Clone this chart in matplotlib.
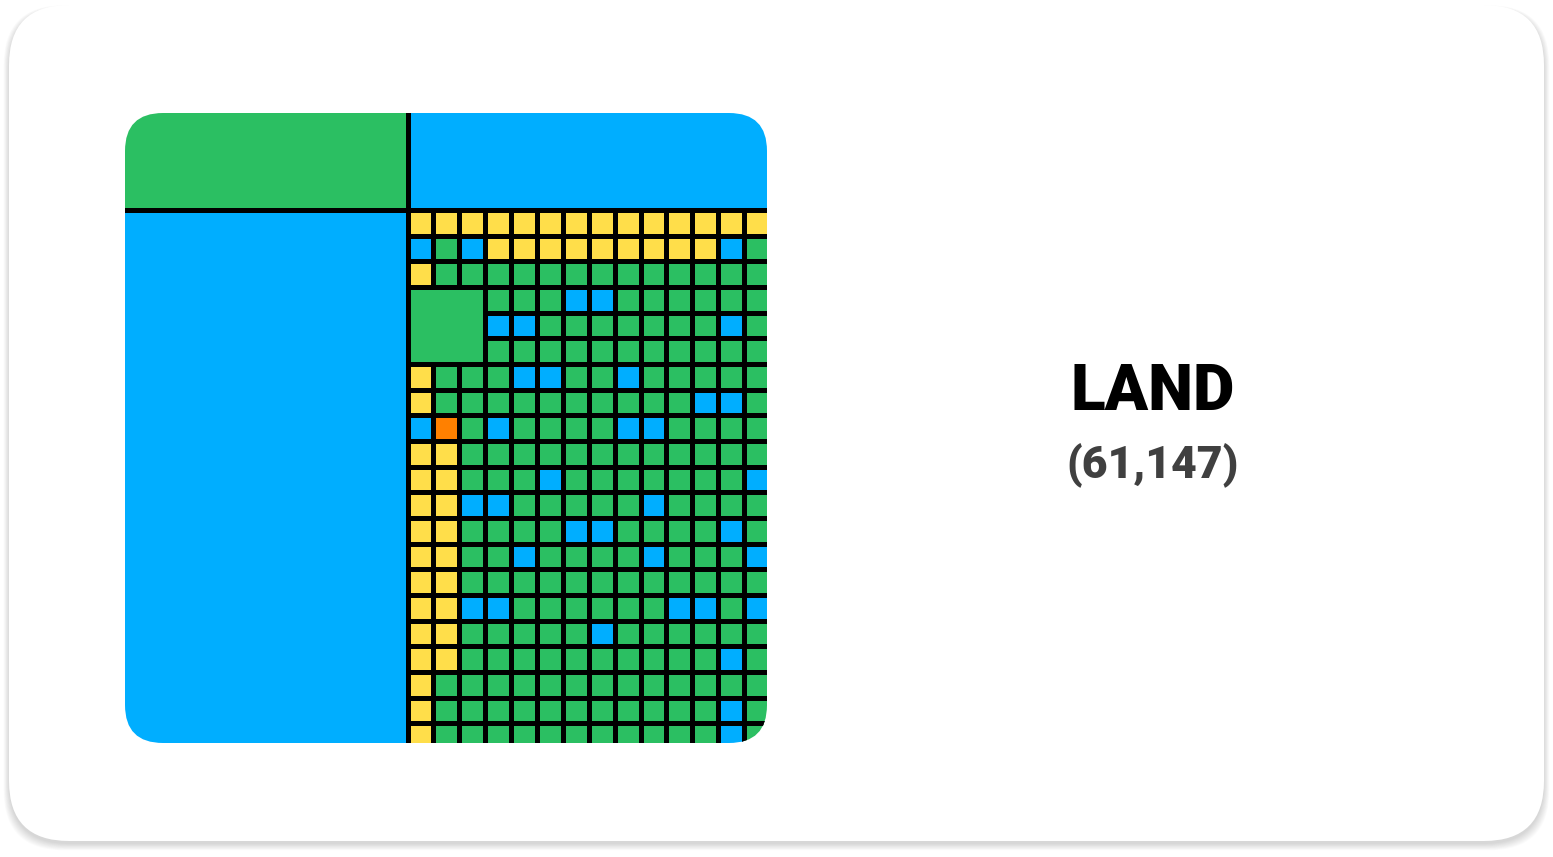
import matplotlib.pyplot as plt
from matplotlib.patches import Rectangle, FancyBboxPatch

# colour codes of the small cells (row by row, '.' = covered by the big square)
grid_rows = [
    "YYYYYYYYYYYYYY",
    "BGBYYYYYYYYYBG",
    "YGGGGGGGGGGGGG",
    "...GGGBBGGGGGG",
    "...BBGGGGGGGBG",
    "...GGGGGGGGGGG",
    "YGGGBBGGBGGGGG",
    "YGGGGGGGGGGBBG",
    "BOGBGGGGBBGGGG",
    "YYGGGGGGGGGGGG",
    "YYGGGBGGGGGGGB",
    "YYBBGGGGGBGGGG",
    "YYGGGGBBGGGGBG",
    "YYGGBGGGGBGGGB",
    "YYGGGGGGGGGGGG",
    "YYBBGGGGGGBBGB",
    "YYGGGGGBGGGGGG",
    "YYGGGGGGGGGGBG",
    "YGGGGGGGGGGGGG",
    "YGGGGGGGGGGGBG",
    "YGGGGGGGGGGGBG",
]
big_square = ("G", 3, 0, 3)  # colour, row, col, span
top_tiles = ["G", "B", "B"]  # left top, left bottom, right top
label = "LAND"
count = "(61,147)"

colors = {"G": "#2bbf62", "B": "#00aeff", "Y": "#ffde4a", "O": "#ff8000"}

fig = plt.figure(figsize=(15.53, 8.57), dpi=100)
ax = fig.add_axes([0, 0, 1, 1])
ax.set_xlim(0, 1553)
ax.set_ylim(857, 0)
ax.axis("off")

# card with soft shadow
for i in range(10):
    ax.add_patch(FancyBboxPatch((9 - i * 0.6, 8 - i * 0.3), 1535 + i * 1.2, 836 + i * 1.0,
                                boxstyle="round,pad=0,rounding_size=60",
                                fc="black", ec="none", alpha=0.014, zorder=0))
ax.add_patch(FancyBboxPatch((9, 5), 1535, 836, boxstyle="round,pad=0,rounding_size=60",
                            fc="white", ec="none", zorder=1))

# treemap
L, T, R, B = 125, 113, 767, 743
sx, sy = 407.5, 210
px = (R + 3 - sx) / 14
py = 25.67
ext = 8
lw = 3.6

clip = FancyBboxPatch((L, T), R - L, B - T, boxstyle="round,pad=0,rounding_size=38",
                      transform=ax.transData, fc="none", ec="none")
ax.add_patch(clip)

tiles = [
    (L - ext, T - ext, sx - L + ext, sy - T + ext, top_tiles[0]),
    (L - ext, sy, sx - L + ext, B - sy + ext, top_tiles[1]),
    (sx, T - ext, R - sx + ext, sy - T + ext, top_tiles[2]),
]
c, r0, c0, span = big_square
tiles.append((sx + c0 * px, sy + r0 * py, span * px, span * py, c))
for r, row in enumerate(grid_rows):
    for k, code in enumerate(row):
        if code == ".":
            continue
        tiles.append((sx + k * px, sy + r * py, px, py, code))

for x, y, w, h, code in tiles:
    p = Rectangle((x, y), w, h, fc=colors[code], ec="black", lw=lw, zorder=2)
    ax.add_patch(p)
    p.set_clip_path(clip)

ax.text(1153, 392, label, ha="center", va="center", fontsize=46,
        fontweight="black", family="Roboto", color="black", zorder=3)
ax.text(1153, 466, count, ha="center", va="center", fontsize=32,
        fontweight="black", family="Roboto", color="#404040", zorder=3)

fig.savefig("out.png", dpi=100, facecolor="white")
